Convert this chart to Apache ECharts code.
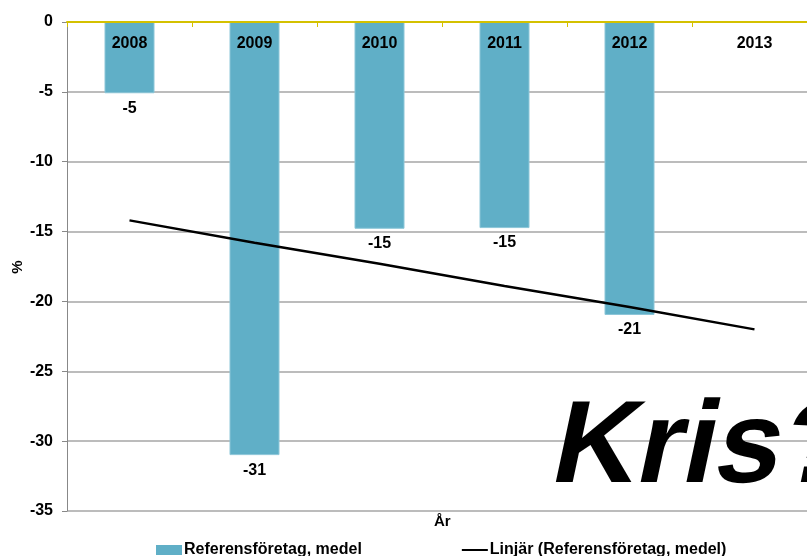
<!DOCTYPE html>
<html><head><meta charset="utf-8">
<script src="https://cdn.jsdelivr.net/npm/echarts@6/dist/echarts.min.js"></script>
<style>html,body{margin:0;padding:0;background:#fff}#c{width:807px;height:556px}</style>
</head><body><div id="c"></div>
<script>
const years = ['2008','2009','2010','2011','2012','2013'];
const barValues = [-5.1, -31.0, -14.8, -14.75, -20.97, null];
const barLabels = ['-5','-31','-15','-15','-21',''];
const trendValues = [-14.2, -15.8, -17.3, -18.9, -20.4, -22.0];
const yTicks = {min: -35, max: 0, interval: 5};
const barName = 'Referensföretag, medel';
const trendName = 'Linjär (Referensföretag, medel)';
const overlayText = 'Kris?';
const xName = 'År';
const yName = '%';

const FONT = '"Liberation Sans", Arial, sans-serif';
const chart = echarts.init(document.getElementById('c'), null, {renderer: 'canvas'});
chart.setOption({
  animation: false,
  textStyle: {fontFamily: FONT},
  grid: {left: 67, top: 22, width: 750, bottom: 45, containLabel: false, outerBoundsMode: 'none'},
  legend: {
    left: 156, top: 542, padding: 0, itemGap: 100, itemWidth: 26, itemHeight: 10,
    itemStyle: {borderWidth: 0},
    textStyle: {fontFamily: FONT, fontWeight: 'bold', fontSize: 16, color: '#000', padding: [0,0,0,-3]},
    data: [{name: barName, icon: 'rect'}, {name: trendName, icon: 'path://M0,4 L26,4 L26,6 L0,6 Z'}]
  },
  xAxis: {
    type: 'category', data: years, position: 'top', z: 10,
    axisLine: {show: true, onZero: false, lineStyle: {color: '#D4C100', width: 2}},
    axisTick: {show: true, inside: true, length: 5, lineStyle: {color: '#D4C100'}},
    axisLabel: {inside: true, margin: 14, fontFamily: FONT, fontWeight: 'bold', fontSize: 16, color: '#000'},
    splitLine: {show: false}
  },
  yAxis: {
    type: 'value', min: yTicks.min, max: yTicks.max, interval: yTicks.interval,
    axisLine: {show: true, lineStyle: {color: '#888', width: 1}},
    axisTick: {show: true, length: 5, lineStyle: {color: '#888'}},
    axisLabel: {margin: 14, fontFamily: FONT, fontWeight: 'bold', fontSize: 16, color: '#000'},
    splitLine: {show: true, lineStyle: {color: '#A6A6A6', width: 1.5}}
  },
  graphic: [
    {type: 'text', left: 434, top: 514, z: 100, style: {text: xName, fontFamily: FONT, fontWeight: 'bold', fontSize: 15, fill: '#000'}},
    {type: 'text', x: 18, y: 267, rotation: Math.PI / 2, z: 100,
      style: {text: yName, fontFamily: FONT, fontWeight: 'bold', fontSize: 15, fill: '#000', align: 'center', verticalAlign: 'middle'}},
    {type: 'text', x: 555, y: 450, skewX: -0.21, z: 100,
      style: {text: overlayText, fontFamily: FONT, fontWeight: 'bold', fontSize: 117, fill: '#000', verticalAlign: 'middle', align: 'left'}}
  ],
  series: [
    {
      name: barName, type: 'bar', data: barValues, barWidth: '40%',
      itemStyle: {color: '#60AFC7', borderColor: '#8CC6D8', borderWidth: 1},
      label: {show: true, position: 'bottom', distance: 7, fontFamily: FONT, fontWeight: 'bold', fontSize: 16, color: '#000',
        formatter: p => barLabels[p.dataIndex]}
    },
    {
      name: trendName, type: 'line', data: trendValues, symbol: 'none', showSymbol: false,
      lineStyle: {color: '#000', width: 2.5}, itemStyle: {color: '#000'}, z: 5
    }
  ]
});
</script></body></html>
